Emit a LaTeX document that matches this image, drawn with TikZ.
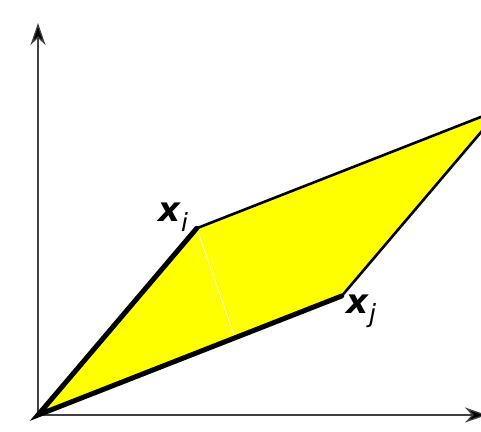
\documentclass[tikz,border=0pt]{standalone}
\usepackage{fontspec}
\newfontfamily\djv{DejaVu Sans}
\usetikzlibrary{arrows.meta}
\definecolor{pyellow}{RGB}{255,255,0}
\tikzset{
  axistip/.tip={Stealth[length=22pt,width=15pt,inset=7pt,fill=black]},
  axisline/.style={line width=1.3pt, draw=black!75, -axistip},
  vecline/.style={line width=5pt, line cap=round, line join=miter},
  edgeline/.style={line width=2.6pt, line join=miter},
  lbl/.style={inner sep=0pt, anchor=base west, font=\djv\fontsize{34}{36}\selectfont}
}
\newcommand{\vlab}[1]{\textbf{\textit{x}}\raisebox{-10pt}{\fontsize{25}{27}\selectfont\textit{#1}}}
\begin{document}
\begin{tikzpicture}[x=1pt,y=1pt]
\useasboundingbox (0,0) rectangle (481,431);
\coordinate (O) at (38,16);
\coordinate (xi) at (196.7,202.7);
\coordinate (xj) at (341.7,135);
\coordinate (s) at (500.4,321.7);
\coordinate (foot) at (234,96);
\coordinate (yend) at (38,408);
\coordinate (xend) at (487,16);
\begin{scope}
\clip (0,0) rectangle (481,431);
\fill[pyellow] (O) -- (xi) -- (s) -- (xj) -- cycle;
\draw[white, line width=0.6pt] (xi) -- (foot);
\draw[edgeline] (xi) -- (s) -- (xj);
\end{scope}
\draw[axisline] (O) -- (yend);
\draw[axisline] (O) -- (xend);
\draw[vecline] (xj) -- (O) -- (xi);
\node[lbl] (li) at (158,209) {\vlab{i}};
\node[lbl] (lj) at (346,118) {\vlab{j}};
\end{tikzpicture}
\end{document}
